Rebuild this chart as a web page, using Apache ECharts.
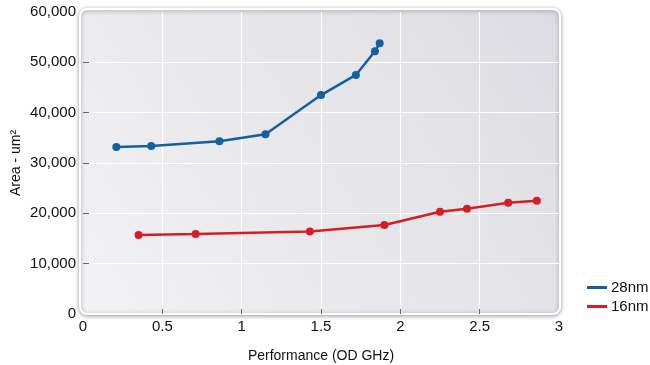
<!DOCTYPE html>
<html>
<head>
<meta charset="utf-8">
<script src="https://cdn.jsdelivr.net/npm/echarts@6/dist/echarts.min.js"></script>
<style>html,body{margin:0;padding:0;background:#fff;}#c{width:650px;height:365px;}</style>
</head>
<body>
<div id="c"></div>
<script>
var perf28 = [0.21, 0.43, 0.86, 1.15, 1.50, 1.72, 1.84, 1.87];
var area28 = [33200, 33400, 34300, 35700, 43500, 47500, 52200, 53800];
var perf16 = [0.35, 0.71, 1.43, 1.90, 2.25, 2.42, 2.68, 2.86];
var area16 = [15700, 15900, 16400, 17700, 20300, 20900, 22100, 22500];
var xTicks = [0, 0.5, 1, 1.5, 2, 2.5, 3];
var yTicks = [0, 10000, 20000, 30000, 40000, 50000, 60000];
var seriesNames = ['28nm', '16nm'];

function pairs(xs, ys) { return xs.map(function (x, i) { return [x, ys[i]]; }); }

var chart = echarts.init(document.getElementById('c'), null, {renderer: 'canvas'});
var FONT = 'Liberation Sans, Arial, sans-serif';
chart.setOption({
  animation: false,
  backgroundColor: '#fff',
  textStyle: {fontFamily: FONT},
  graphic: [{
    type: 'rect', z: -10, silent: true,
    shape: {x: 80, y: 9, width: 480, height: 305, r: 7},
    style: {
      fill: new echarts.graphic.LinearGradient(0, 1, 1, 0, [
        {offset: 0, color: '#f2f2f4'},
        {offset: 0.5, color: '#e7e7eb'},
        {offset: 1, color: '#dcdce2'}
      ]),
      stroke: '#ffffff', lineWidth: 2,
      shadowBlur: 4, shadowColor: 'rgba(0,0,0,0.35)', shadowOffsetX: 0, shadowOffsetY: 1
    }
  }],
  grid: {left: 83, top: 12, width: 476, height: 302, show: false, outerBoundsMode: 'none', containLabel: false},
  legend: {
    orient: 'vertical', left: 587, top: 280, itemGap: 4, padding: 0,
    itemWidth: 20, itemHeight: 3, icon: 'rect',
    textStyle: {fontSize: 15, color: '#111', fontFamily: FONT, padding: [0, 0, 0, -1]},
    data: seriesNames
  },
  xAxis: {
    type: 'value', min: xTicks[0], max: xTicks[xTicks.length - 1], interval: 0.5,
    name: 'Performance (OD GHz)', nameLocation: 'middle', nameGap: 35,
    nameTextStyle: {fontSize: 14, color: '#111', fontFamily: FONT},
    axisLine: {show: false},
    axisTick: {show: true, inside: true, length: 5, lineStyle: {color: '#666', width: 1}, customValues: [0.5, 1, 1.5, 2, 2.5]},
    axisLabel: {fontSize: 15, color: '#111', margin: 5, fontFamily: FONT,
      customValues: xTicks, formatter: function (v) { return String(v); }},
    splitLine: {show: true, lineStyle: {color: '#ffffff', width: 1.2}}
  },
  yAxis: {
    type: 'value', min: yTicks[0], max: yTicks[yTicks.length - 1], interval: 10000,
    name: 'Area - um\u00b2', nameLocation: 'middle', nameGap: 60, nameMoveOverlap: false,
    nameTextStyle: {fontSize: 14, color: '#111', fontFamily: FONT},
    axisLine: {show: false},
    axisTick: {show: true, inside: true, length: 6, lineStyle: {color: '#666', width: 1}, customValues: [10000, 20000, 30000, 40000, 50000]},
    axisLabel: {fontSize: 15, color: '#111', margin: 7, fontFamily: FONT,
      customValues: yTicks,
      formatter: function (v) { return v.toLocaleString('en-US'); }},
    splitLine: {show: true, lineStyle: {color: '#ffffff', width: 1.2}}
  },
  series: [
    {name: seriesNames[0], type: 'line', data: pairs(perf28, area28), symbol: 'circle', symbolSize: 8,
     itemStyle: {color: '#13609e'}, lineStyle: {width: 2.5, color: '#13609e'}},
    {name: seriesNames[1], type: 'line', data: pairs(perf16, area16), symbol: 'circle', symbolSize: 8,
     itemStyle: {color: '#d81c24'}, lineStyle: {width: 2.5, color: '#d81c24'}}
  ]
});
</script>
</body>
</html>
